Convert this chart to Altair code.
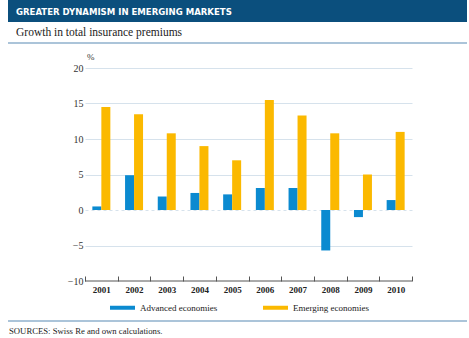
import altair as alt
import pandas as pd

years = ["2001", "2002", "2003", "2004", "2005", "2006", "2007", "2008", "2009", "2010"]
series = ["Advanced economies", "Emerging economies"]
advanced = [0.5, 4.9, 1.9, 2.4, 2.2, 3.1, 3.1, -5.7, -1.0, 1.4]
emerging = [14.5, 13.5, 10.8, 9.0, 7.0, 15.5, 13.3, 10.8, 5.0, 11.0]
colors = ["#0b8ad0", "#fbb900"]

title_text = "GREATER DYNAMISM IN EMERGING MARKETS"
subtitle_text = "Growth in total insurance premiums"
unit_text = "%"
source_text = "SOURCES: Swiss Re and own calculations."

rows = []
for i, y in enumerate(years):
    rows.append({"year": y, "series": series[0], "value": advanced[i]})
    rows.append({"year": y, "series": series[1], "value": emerging[i]})
df = pd.DataFrame(rows)

W, H = 327, 213
L, T = 85, 68
SERIF = "Liberation Serif"

bars = alt.Chart(df).mark_bar().encode(
    x=alt.X("year:N", sort=years,
            scale=alt.Scale(paddingInner=0, paddingOuter=0),
            axis=alt.Axis(title=None, domain=False, tickBand="extent", ticks=True,
                          tickSize=5, offset=-5, tickColor="#555555", tickWidth=1,
                          labelAngle=0, labelPadding=4, labelFont=SERIF,
                          labelFontSize=9, labelFontWeight="bold", labelColor="#222222")),
    xOffset=alt.XOffset("series:N", sort=series,
                        scale=alt.Scale(domain=series, paddingInner=0, paddingOuter=0.817)),
    y=alt.Y("value:Q",
            scale=alt.Scale(domain=[-10, 20], nice=False, zero=False),
            axis=alt.Axis(title=None, values=[-10, -5, 0, 5, 10, 15, 20], domain=False,
                          ticks=False, labelPadding=2, labelFont=SERIF, labelFontSize=10,
                          labelColor="#333333", grid=True, gridColor="#d6e2ec", gridWidth=1,
                          gridDash={"condition": {"test": "datum.value === 0", "value": [3, 3]}, "value": []},
                          gridOpacity={"condition": {"test": "datum.value === -10", "value": 0}, "value": 1})),
    color=alt.Color("series:N", sort=series,
                    scale=alt.Scale(domain=series, range=colors),
                    legend=alt.Legend(title=None, orient="none", direction="horizontal",
                                      legendX=110 - L, legendY=295 - T,
                                      symbolType="M-1,-0.16L1,-0.16L1,0.16L-1,0.16Z",
                                      symbolSize=625, symbolStrokeWidth=0, symbolOpacity=1,
                                      labelOffset=5, columnPadding=45, labelFont=SERIF,
                                      labelFontSize=9, labelColor="#222222")),
)

one = pd.DataFrame({"k": [0]})

header = alt.Chart(one).mark_rect(color="#0b4f7d").encode(
    x=alt.value(8 - L), x2=alt.value(467 - L), y=alt.value(0 - T), y2=alt.value(22 - T))
header_text = alt.Chart(pd.DataFrame({"t": [title_text]})).mark_text(
    align="left", baseline="middle", font="DejaVu Sans Condensed",
    fontWeight="bold", fontSize=9.5, color="white").encode(
    text="t:N", x=alt.value(16 - L), y=alt.value(11.5 - T))
subtitle = alt.Chart(pd.DataFrame({"t": [subtitle_text]})).mark_text(
    align="left", baseline="middle", font=SERIF, fontSize=11.5, color="#222222").encode(
    text="t:N", x=alt.value(16 - L), y=alt.value(33 - T))
top_line = alt.Chart(one).mark_rule(color="#8fb0cc", strokeWidth=1.5).encode(
    x=alt.value(8 - L), x2=alt.value(467 - L), y=alt.value(43 - T))
unit = alt.Chart(pd.DataFrame({"t": [unit_text]})).mark_text(
    align="left", baseline="middle", font=SERIF, fontSize=9, color="#333333").encode(
    text="t:N", x=alt.value(87 - L), y=alt.value(57 - T))
axis_line = alt.Chart(one).mark_rule(color="#555555", strokeWidth=1).encode(
    x=alt.value(0), x2=alt.value(W), y=alt.value(H))
bottom_line = alt.Chart(one).mark_rule(color="#8fb0cc", strokeWidth=1.5).encode(
    x=alt.value(8 - L), x2=alt.value(467 - L), y=alt.value(321 - T))
source = alt.Chart(pd.DataFrame({"t": [source_text]})).mark_text(
    align="left", baseline="middle", font=SERIF, fontSize=8.7, color="#222222").encode(
    text="t:N", x=alt.value(9 - L), y=alt.value(331 - T))

chart = alt.layer(
    header, header_text, subtitle, top_line, unit, bars, axis_line, bottom_line, source
).properties(
    width=W, height=H,
    autosize=alt.AutoSizeParams(type="none"),
    padding={"left": L, "top": T, "right": 469 - L - W, "bottom": 338 - T - H},
    background="white",
).configure(font=SERIF).configure_view(stroke=None).configure_legend(
    labelFont=SERIF
).configure_axis(labelFont=SERIF)

chart.save("out.html", embed_options={"renderer": "svg", "actions": False})
